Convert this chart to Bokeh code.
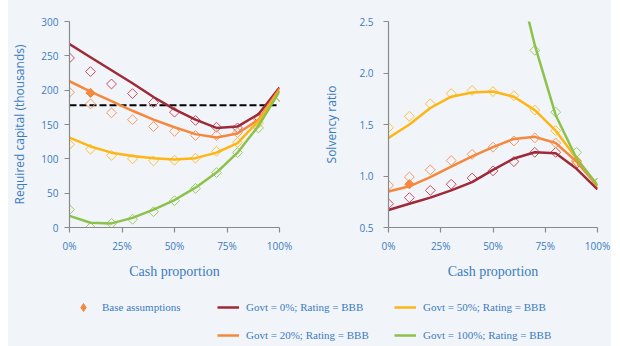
import numpy as np
from bokeh.plotting import figure
from bokeh.models import (Range1d, NumeralTickFormatter, FixedTicker, Legend,
                          LegendItem, Spacer)
from bokeh.layouts import row, column
from bokeh.embed import file_html
from bokeh.resources import INLINE

nan = float("nan")

# ---------------- data ----------------
cash = [0.0, 0.1, 0.2, 0.3, 0.4, 0.5, 0.6, 0.7, 0.8, 0.9, 1.0]
x_ticks = [0.0, 0.25, 0.5, 0.75, 1.0]

series_labels = ["Govt = 0%; Rating = BBB", "Govt = 20%; Rating = BBB",
                 "Govt = 50%; Rating = BBB", "Govt = 100%; Rating = BBB"]
base_label = "Base assumptions"

# Required capital (thousands): fitted lines and simulated points
cap_line_g0 = [267, 248, 229, 210, 190, 172, 157, 145, 147, 165, 204]
cap_pts_g0 = [247, 227, 209, 195, 182, 168, 156, 146, 145, 160, 191]
cap_line_g20 = [213, 198, 184, 170, 157, 146, 136, 131, 137, 157, 202]
cap_pts_g20 = [197, 180, 167, 157, 147, 140, 134, 134, 138, 157, 191]
cap_line_g50 = [131, 118, 109, 104, 101, 99, 101, 109, 123, 155, 199]
cap_pts_g50 = [121, 114, 105, 100, 97, 98, 101, 111, 124, 152, 191]
cap_line_g100 = [17, 7, 6, 14, 26, 40, 58, 80, 109, 148, 198]
cap_pts_g100 = [26, 0, 6, 12, 23, 39, 57, 80, 109, 145, 191]
cap_threshold = 178
cap_yticks = [0, 50, 100, 150, 200, 250, 300]

# Solvency ratio: fitted lines and simulated points
solv_line_g0 = [0.67, 0.73, 0.79, 0.86, 0.94, 1.06, 1.17, 1.23, 1.22, 1.07, 0.87]
solv_pts_g0 = [0.73, 0.79, 0.86, 0.92, 0.98, 1.05, 1.14, 1.23, 1.23, 1.12, 0.93]
solv_line_g20 = [0.85, 0.90, 0.99, 1.09, 1.19, 1.28, 1.36, 1.38, 1.32, 1.14, 0.90]
solv_pts_g20 = [0.91, 0.99, 1.06, 1.15, 1.21, 1.28, 1.34, 1.37, 1.32, 1.14, 0.93]
solv_line_g50 = [1.37, 1.50, 1.66, 1.77, 1.81, 1.82, 1.77, 1.64, 1.44, 1.17, 0.91]
solv_pts_g50 = [1.47, 1.58, 1.70, 1.80, 1.83, 1.82, 1.78, 1.64, 1.44, 1.15, 0.93]
solv_line_g100 = [nan, nan, nan, nan, nan, nan, 3.10, 2.27, 1.59, 1.17, 0.91]
solv_pts_g100 = [nan, nan, nan, nan, nan, nan, nan, 2.22, 1.62, 1.23, 0.93]
solv_yticks = [0.5, 1.0, 1.5, 2.0, 2.5]

base_cash = [0.1]
base_cap = [196]
base_solv = [0.92]

# ---------------- style ----------------
BG = "#f1f4f9"
BLUE = "#3b7cc0"
AXIS = "#8a8a8a"
LINE_COLORS = ["#9e2a38", "#f5883c", "#fdb614", "#8cc24a"]
PT_COLORS = ["#c8505f", "#f59a62", "#fdc040", "#9ccd62"]
BASE_COLOR = "#f5883c"


def style_fig(p, xlabel, ylabel, ylab_standoff, ytick_standoff, yfmt, yticks):
    p.background_fill_color = BG
    p.border_fill_color = BG
    p.outline_line_color = None
    p.grid.visible = False
    p.styles = {"background-color": BG}
    for ax in (p.xaxis[0], p.yaxis[0]):
        ax.axis_line_color = AXIS
        ax.axis_line_width = 1.2
        ax.major_tick_line_color = AXIS
        ax.major_tick_line_width = 1.2
        ax.major_tick_out = 5
        ax.major_tick_in = 0
        ax.minor_tick_line_color = None
        ax.major_label_text_font = "Open Sans"
        ax.major_label_text_font_size = "10px"
        ax.major_label_text_color = BLUE
        ax.axis_label_text_color = BLUE
        ax.axis_label_text_font_style = "normal"
    xa = p.xaxis[0]
    xa.ticker = FixedTicker(ticks=x_ticks)
    xa.formatter = NumeralTickFormatter(format="0%")
    xa.axis_label = xlabel
    xa.axis_label_text_font = "Liberation Serif"
    xa.axis_label_text_font_size = "14px"
    xa.major_label_standoff = 6
    xa.axis_label_standoff = 8
    ya = p.yaxis[0]
    ya.ticker = FixedTicker(ticks=yticks)
    ya.formatter = NumeralTickFormatter(format=yfmt)
    ya.axis_label = ylabel
    ya.axis_label_text_font = "Open Sans"
    ya.axis_label_text_font_size = "12px"
    ya.major_label_standoff = ytick_standoff
    ya.axis_label_standoff = ylab_standoff


def add_series(p, lines, pts):
    for pt, col in zip(pts, PT_COLORS):
        p.scatter(cash, pt, marker="square", angle=np.pi / 4, size=7,
                  fill_color=None, line_color=col, line_width=1)
    for ln, col in zip(lines, LINE_COLORS):
        p.line(cash, ln, line_color=col, line_width=2.5)


# ---------------- left: required capital ----------------
p1 = figure(width=312, height=285, x_range=Range1d(0, 1), y_range=Range1d(0, 300),
            output_backend="svg", toolbar_location=None,
            min_border_left=59, min_border_right=41, min_border_top=20,
            min_border_bottom=58)
style_fig(p1, "Cash proportion", "Required capital (thousands)", 10, 6, "0", cap_yticks)
p1.line([cash[0], cash[-1]], [cap_threshold, cap_threshold], line_color="black",
        line_width=2, line_dash="7 3")
add_series(p1, [cap_line_g0, cap_line_g20, cap_line_g50, cap_line_g100],
           [cap_pts_g0, cap_pts_g20, cap_pts_g50, cap_pts_g100])
p1.scatter(base_cash, base_cap, marker="square", angle=np.pi / 4, size=6.5,
           fill_color=BASE_COLOR, line_color=BASE_COLOR)

# ---------------- right: solvency ratio ----------------
p2 = figure(width=291, height=285, x_range=Range1d(0, 1), y_range=Range1d(0.5, 2.5),
            output_backend="svg", toolbar_location=None,
            min_border_left=65, min_border_right=14, min_border_top=21,
            min_border_bottom=57)
style_fig(p2, "Cash proportion", "Solvency ratio", 16, 10, "0.0", solv_yticks)
add_series(p2, [solv_line_g0, solv_line_g20, solv_line_g50, solv_line_g100],
           [solv_pts_g0, solv_pts_g20, solv_pts_g50, solv_pts_g100])
p2.scatter(base_cash, base_solv, marker="square", angle=np.pi / 4, size=6.5,
           fill_color=BASE_COLOR, line_color=BASE_COLOR)

# ---------------- legend strip ----------------
leg = figure(width=603, height=61, x_range=Range1d(0, 1), y_range=Range1d(0, 1),
             output_backend="svg", toolbar_location=None, min_border=0,
             x_axis_location=None, y_axis_location=None)
leg.background_fill_color = BG
leg.border_fill_color = BG
leg.outline_line_color = None
leg.grid.visible = False
leg.styles = {"background-color": BG}

r_base = leg.scatter([-5], [-5], marker="diamond", size=8, color=BASE_COLOR)
r_lines = [leg.line([-5, -4], [-5, -4], line_color=c, line_width=2.5)
           for c in LINE_COLORS]


def add_legend(r, label, x, y, gw, standoff):
    lg = Legend(items=[LegendItem(label=label, renderers=[r])], location=(x, y),
                glyph_width=gw, glyph_height=20, label_height=20,
                label_standoff=standoff, padding=0, margin=0, spacing=0,
                border_line_color=None, background_fill_alpha=0,
                label_text_font="Liberation Serif", label_text_font_size="11px",
                label_text_color=BLUE)
    leg.add_layout(lg)


add_legend(r_base, base_label, 65, 29, 20, 9)
add_legend(r_lines[0], series_labels[0], 209, 29, 22, 7)
add_legend(r_lines[2], series_labels[2], 386, 29, 22, 7)
add_legend(r_lines[1], series_labels[1], 209, 1, 22, 7)
add_legend(r_lines[3], series_labels[3], 386, 1, 22, 7)

top_row = row(p1, p2, styles={"background-color": BG})
panel = column(top_row, leg, styles={"background-color": BG})
layout = row(Spacer(width=8, height=346), panel)

open("out.html", "w").write(file_html(layout, INLINE))
